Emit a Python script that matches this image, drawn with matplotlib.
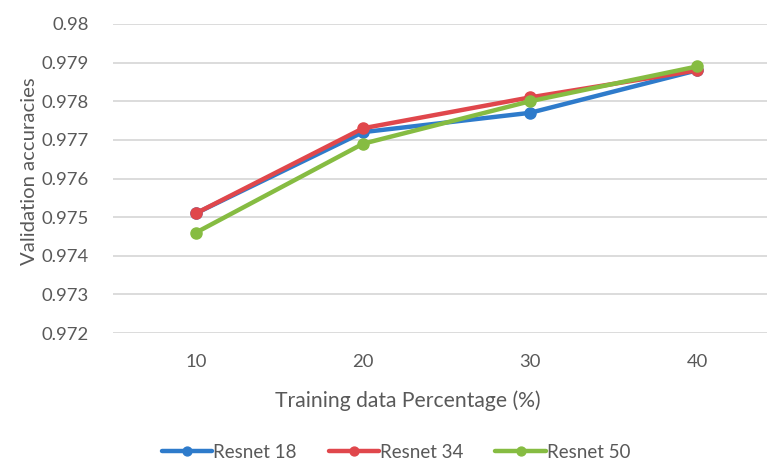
import matplotlib
matplotlib.use("Agg")
import matplotlib.pyplot as plt

percentages = ["10", "20", "30", "40"]
resnet18 = [0.9751, 0.9772, 0.9777, 0.9788]
resnet34 = [0.9751, 0.9773, 0.9781, 0.9788]
resnet50 = [0.9746, 0.9769, 0.9780, 0.9789]
series_names = ["Resnet 18", "Resnet 34", "Resnet 50"]
colors = ["#2E7BCB", "#E0474C", "#86BC42"]

plt.rcParams['font.family'] = ['Lato', 'DejaVu Sans']
W, H = 767, 463
fig = plt.figure(figsize=(W / 100, H / 100), dpi=100)
ax = fig.add_axes([112.5 / W, 1 - 333 / H, (767 - 112.5) / W, (333 - 24) / H])

x = list(range(len(percentages)))
for vals, name, c in zip([resnet18, resnet34, resnet50], series_names, colors):
    ax.plot(x, vals, color=c, lw=3.2, marker='o', ms=8, label=name,
            solid_capstyle='round', clip_on=False, zorder=3)

ax.set_ylim(0.972, 0.98)
ax.set_yticks([0.972 + 0.001 * i for i in range(9)])
ax.set_yticklabels(["0.972", "0.973", "0.974", "0.975", "0.976", "0.977",
                    "0.978", "0.979", "0.98"])
ax.set_xlim(-0.5, (767 - 112.5) / 167 - 0.5)
ax.set_xticks(x)
ax.set_xticklabels(percentages)

for s in ax.spines.values():
    s.set_visible(False)
ax.grid(axis='y', color='#D9D9D9', lw=1.3)
ax.set_axisbelow(True)
ax.tick_params(length=0, labelsize=13.3, colors='#595959', pad=15)
ax.tick_params(axis='y', pad=17)

fig.text(30 / W, 1 - 171 / H, "Validation accuracies", rotation=90,
         ha='center', va='center', fontsize=14.6, color='#595959')
fig.text(408 / W, 1 - 401 / H, "Training data Percentage (%)",
         ha='center', va='center', fontsize=15.2, color='#595959')

fig.legend(loc='center', bbox_to_anchor=(396 / W, 1 - 452 / H), ncol=3,
           frameon=False, fontsize=13.5, labelcolor='#595959',
           handlelength=2.7, handletextpad=0.05, columnspacing=1.7,
           markerscale=0.8)

fig.savefig("out.png", dpi=100)
